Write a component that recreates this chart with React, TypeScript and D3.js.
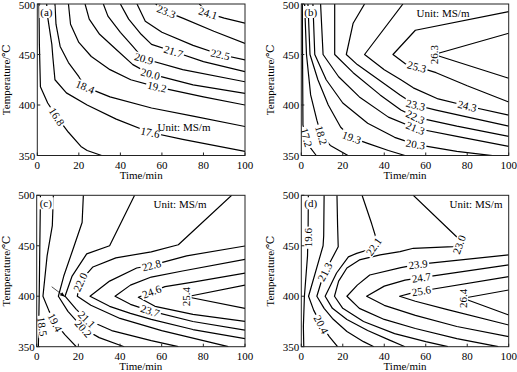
import React from 'react';
import * as d3 from 'd3';

type Pt = [number, number];
interface Contour { level: string; pts: Pt[]; at: Pt; rot?: number; snap?: boolean }

const timeTicks = [0, 20, 40, 60, 80, 100];
const tempTicks = [350, 400, 450, 500];
const xTitle = 'Time/min';
const yTitle = 'Temperature/\u2103';
const unitText = 'Unit: MS/m';

// ---------- panel (a) ----------
const a16_8: Pt[] = [[0.8, 500], [1, 460], [1.5, 418], [5, 402], [9.3, 388.5], [15, 373], [21, 359], [24, 355], [31, 350]];
const a17_6: Pt[] = [[4.5, 500], [5, 487], [7, 460], [7.5, 447], [8.5, 425], [14, 412], [24, 400], [38, 386], [54, 373], [70, 366], [100, 354]];
const a18_4: Pt[] = [[8.5, 500], [9, 480], [11, 458], [15, 442], [20, 428], [23, 418], [35, 408], [55, 397], [75, 389], [100, 378.7]];
const a19_2: Pt[] = [[15, 500], [16, 480], [20, 462], [26, 448], [35, 435], [45, 425], [57.5, 418], [80, 408], [100, 400]];
const a20_0: Pt[] = [[23, 500], [25, 485], [30, 470], [38, 455], [46, 440], [54, 431], [75, 420], [100, 411.6]];
const a20_9: Pt[] = [[31.8, 500], [34, 488], [40, 472], [46, 458], [51, 446], [70, 435], [100, 423]];
const a21_7: Pt[] = [[40, 500], [44, 485], [50, 470], [55, 460], [67, 452], [80, 443], [100, 433]];
const a22_5: Pt[] = [[48, 500], [52, 483], [60, 472], [75, 459], [88, 450], [100, 444.6]];
const a23_3: Pt[] = [[57, 500], [61.5, 493], [70, 486], [85, 473], [100, 461]];
const a24_1: Pt[] = [[78, 500], [82, 491], [90, 486], [100, 481]];
const contoursA: Contour[] = [
  { level: '16.8', pts: a16_8, at: [9.3, 388.5] },
  { level: '17.6', pts: a17_6, at: [54.3, 372.4] },
  { level: '18.4', pts: a18_4, at: [23, 417.9] },
  { level: '19.2', pts: a19_2, at: [57.6, 417.9] },
  { level: '20.0', pts: a20_0, at: [54.3, 429.8] },
  { level: '20.9', pts: a20_9, at: [50.9, 442.6] },
  { level: '21.7', pts: a21_7, at: [65.3, 451.5] },
  { level: '22.5', pts: a22_5, at: [88, 449.5] },
  { level: '23.3', pts: a23_3, at: [62, 492] },
  { level: '24.1', pts: a24_1, at: [82.2, 491.1] },
];

// ---------- panel (b) ----------
const b17_2: Pt[] = [[0.5, 500], [0.6, 450], [0.8, 380], [3.5, 360], [7.2, 350]];
const b18_2: Pt[] = [[1.6, 500], [2.5, 450], [4.5, 410], [7.5, 385], [9.6, 370], [14, 360], [22.5, 350]];
const b19_3: Pt[] = [[3.2, 500], [4.2, 450], [8, 425], [13, 400], [19, 378], [24, 368], [32, 362], [42, 355], [50, 350]];
const b20_3: Pt[] = [[5.6, 500], [6.5, 450], [12, 425], [20, 402], [32, 382], [45, 368], [55, 361], [75, 354], [100, 348]];
const b21_3: Pt[] = [[9.3, 500], [10.5, 450], [18, 428], [28, 408], [42, 388], [55, 377], [75, 369], [100, 359]];
const b22_3: Pt[] = [[16.1, 500], [16.1, 450], [25, 432], [38, 410], [48, 395], [55, 388], [75, 379], [100, 369]];
const b23_3: Pt[] = [[30.5, 500], [25, 481], [21.7, 450], [27, 440], [38, 424], [47.6, 410], [55, 400], [65, 395], [100, 379]];
const b24_3: Pt[] = [[49, 500], [30.5, 450], [40, 435], [48, 425], [54, 417], [66, 406], [80, 399], [100, 390]];
const b25_3: Pt[] = [[100, 492.4], [55, 474], [44.2, 450], [50, 441], [56, 437.7], [65, 432], [80, 419], [100, 403]];
const b26_3: Pt[] = [[100, 471], [64, 450], [100, 426.5]];
const contoursB: Contour[] = [
  { level: '17.2', pts: b17_2, at: [2.9, 368] },
  { level: '18.2', pts: b18_2, at: [9.6, 370] },
  { level: '19.3', pts: b19_3, at: [24.1, 366.6] },
  { level: '20.3', pts: b20_3, at: [55, 360.5] },
  { level: '21.3', pts: b21_3, at: [55, 377] },
  { level: '22.3', pts: b22_3, at: [55, 388] },
  { level: '23.3', pts: b23_3, at: [55, 399] },
  { level: '24.3', pts: b24_3, at: [80, 399] },
  { level: '25.3', pts: b25_3, at: [55.7, 437.7] },
  { level: '26.3', pts: b26_3, at: [64, 450], rot: -90 },
];

// ---------- panel (c) ----------
const c18_5: Pt[] = [[1.8, 500], [1.5, 450], [1.2, 400], [0.8, 350]];
const c19_4: Pt[] = [[8, 500], [7.5, 470], [5, 440], [3, 400], [6, 385], [8.8, 374], [13.5, 362], [19, 350]];
const c20_2: Pt[] = [[22.4, 500], [21.8, 473], [18, 450], [13, 420], [10.4, 400], [15, 385], [22.4, 368], [30, 359], [42, 350]];
const c21_1: Pt[] = [[47, 500], [35, 450], [24, 442], [17, 420], [13.6, 400], [19, 387], [24, 377], [36, 366], [55, 356], [68, 350]];
const c22_0: Pt[] = [[93.6, 500], [68, 451], [55, 444], [38, 438], [27, 429], [21, 415], [19.5, 400], [26, 391], [40, 378], [60, 366], [80, 356], [92, 350]];
const c22_8: Pt[] = [[100, 449.8], [72, 440], [55, 430.5], [48, 428], [35, 415], [25.6, 400], [35, 390], [45, 383], [55, 377], [75, 367], [100, 358]];
const c23_7: Pt[] = [[100, 436.6], [70, 425], [55, 419], [45, 411], [37.6, 400], [45, 392], [54.4, 385.5], [75, 375], [100, 366.5]];
const c24_6: Pt[] = [[100, 423], [75, 414], [61.6, 409.5], [55.2, 404.5], [48.8, 399], [56.8, 390], [75, 382], [100, 375]];
const c25_4: Pt[] = [[100, 411], [72, 399.5], [100, 388]];
const arrowC: Pt[] = [[7.2, 409.4], [13.6, 399.5]];
const contoursC: Contour[] = [
  { level: '18.5', pts: c18_5, at: [2.6, 370], snap: false, rot: 82 },
  { level: '19.4', pts: c19_4, at: [8.8, 374] },
  { level: '20.2', pts: c20_2, at: [22.4, 368] },
  { level: '21.1', pts: c21_1, at: [24, 377] },
  { level: '22.0', pts: c22_0, at: [21, 414], rot: -65 },
  { level: '22.8', pts: c22_8, at: [55.2, 430] },
  { level: '23.7', pts: c23_7, at: [54.4, 385.5] },
  { level: '24.6', pts: c24_6, at: [55.2, 404.5] },
  { level: '25.4', pts: c25_4, at: [72, 399.5], rot: -90 },
];

// ---------- panel (d) ----------
const d19_6: Pt[] = [[3.4, 500], [3.3, 470], [3, 440], [1.5, 400], [1, 370], [1.2, 350]];
const d20_4: Pt[] = [[11, 500], [10.8, 460], [10.5, 450], [3.5, 400], [6, 386], [9.6, 372], [13.5, 360], [17.5, 350]];
const d21_3: Pt[] = [[17.2, 500], [17.5, 470], [17.8, 449], [10.6, 421], [7.5, 400], [11, 388], [15, 378], [22, 365], [30, 355], [35, 350]];
const d22_1: Pt[] = [[29.3, 500], [33.9, 472], [36.3, 456], [34.7, 447.5], [26.7, 442.5], [22.7, 439], [17, 423], [11.5, 400], [15, 388], [22, 377], [32, 366], [42, 357], [50, 350]];
const d23_0: Pt[] = [[54, 500], [75, 458.7], [77.5, 452], [73.3, 449.2], [54, 447.5], [47.6, 444.2], [38, 441], [28, 436], [22, 428], [18, 415], [16, 400], [20, 388], [30, 375], [45, 363], [60, 355], [70.7, 350]];
const d23_9: Pt[] = [[100, 441], [56.3, 431.6], [48, 428.3], [33, 421], [27, 411], [22, 400], [28, 388], [40, 377], [55, 368], [75, 358], [95, 350]];
const d24_7: Pt[] = [[100, 431], [57.9, 418.4], [50, 416], [40, 410], [31.5, 400], [40, 391], [55, 381], [75, 370], [100, 360]];
const d25_6: Pt[] = [[100, 419.4], [57.9, 405.2], [54, 403.5], [47.4, 400], [55, 395], [70, 387], [100, 371.5]];
const d26_4: Pt[] = [[100, 406.2], [78, 398], [100, 381.4]];
const contoursD: Contour[] = [
  { level: '19.6', pts: d19_6, at: [3.3, 458], rot: -90 },
  { level: '20.4', pts: d20_4, at: [9.6, 372] },
  { level: '21.3', pts: d21_3, at: [11.5, 424] },
  { level: '22.1', pts: d22_1, at: [35, 449], rot: -55 },
  { level: '23.0', pts: d23_0, at: [76, 452], rot: -70 },
  { level: '23.9', pts: d23_9, at: [56.3, 431.6] },
  { level: '24.7', pts: d24_7, at: [57.9, 418.4] },
  { level: '25.6', pts: d25_6, at: [57.9, 405.2] },
  { level: '26.4', pts: d26_4, at: [78, 398], rot: -90 },
];

const FONT = "'Liberation Serif', 'Times New Roman', 'DejaVu Serif', serif";

interface PanelCfg {
  id: string; x0: number; x1: number; y0: number; y1: number;
  contours: Contour[]; tag: string; unit: [number, number]; titleX: number; arrow?: Pt[];
}

const panels: PanelCfg[] = [
  { id: 'a', x0: 37.3, x1: 245, y0: 4, y1: 155.5, contours: contoursA, tag: '(a)', unit: [184, 131], titleX: 9.5 },
  { id: 'b', x0: 301.3, x1: 508.7, y0: 4, y1: 155.5, contours: contoursB, tag: '(b)', unit: [443, 17], titleX: 273.5 },
  { id: 'c', x0: 36.7, x1: 245, y0: 195.3, y1: 346.7, contours: contoursC, tag: '(c)', unit: [180, 208], titleX: 9.5, arrow: arrowC },
  { id: 'd', x0: 301.3, x1: 508.7, y0: 195.3, y1: 346.7, contours: contoursD, tag: '(d)', unit: [476, 208], titleX: 273.5 },
];

function place(pp: Pt[], target: Pt, snap: boolean) {
  let best = { d: Infinity, x: target[0], y: target[1], a: 0 };
  for (let i = 0; i < pp.length - 1; i++) {
    const [x1, y1] = pp[i];
    const [x2, y2] = pp[i + 1];
    const dx = x2 - x1, dy = y2 - y1;
    const L = dx * dx + dy * dy;
    let t = L ? ((target[0] - x1) * dx + (target[1] - y1) * dy) / L : 0;
    t = Math.max(0, Math.min(1, t));
    const px = x1 + t * dx, py = y1 + t * dy;
    const d = (px - target[0]) ** 2 + (py - target[1]) ** 2;
    if (d < best.d) best = { d, x: px, y: py, a: (Math.atan2(dy, dx) * 180) / Math.PI };
  }
  let a = best.a;
  if (a > 90) a -= 180;
  if (a < -90) a += 180;
  return snap ? { x: best.x, y: best.y, a } : { x: target[0], y: target[1], a };
}

function Panel({ p }: { p: PanelCfg }) {
  const xs = d3.scaleLinear().domain([0, 100]).range([p.x0, p.x1]);
  const ys = d3.scaleLinear().domain([350, 500]).range([p.y1, p.y0]);
  const line = d3.line<Pt>().x((d) => xs(d[0])).y((d) => ys(d[1]));
  const clipId = `clip-${p.id}`;
  const cy = (p.y0 + p.y1) / 2;
  const cx = (p.x0 + p.x1) / 2;
  return (
    <g>
      <defs>
        <clipPath id={clipId}>
          <rect x={p.x0} y={p.y0} width={p.x1 - p.x0} height={p.y1 - p.y0} />
        </clipPath>
      </defs>
      <g clipPath={`url(#${clipId})`}>
        {p.contours.map((c) => (
          <path key={c.level} d={line(c.pts) || ''} fill="none" stroke="#000" strokeWidth={1.2} strokeLinejoin="round" />
        ))}
        {p.arrow && (
          <g>
            <path d={line(p.arrow) || ''} stroke="#000" strokeWidth={0.7} fill="none" />
            {(() => {
              const [a, b] = p.arrow!;
              const ax = xs(a[0]), ay = ys(a[1]), bx = xs(b[0]), by = ys(b[1]);
              const ang = Math.atan2(by - ay, bx - ax);
              const L = 5, w = 2;
              const ux = Math.cos(ang), uy = Math.sin(ang);
              const p1 = [bx - ux * L - uy * w, by - uy * L + ux * w];
              const p2 = [bx - ux * L + uy * w, by - uy * L - ux * w];
              return <path d={`M${bx},${by}L${p1[0]},${p1[1]}L${p2[0]},${p2[1]}Z`} fill="#000" />;
            })()}
          </g>
        )}
        {p.contours.map((c) => {
          const pp: Pt[] = c.pts.map((d) => [xs(d[0]), ys(d[1])]);
          const pos = place(pp, [xs(c.at[0]), ys(c.at[1])], c.snap !== false);
          const rot = c.rot !== undefined ? c.rot : pos.a;
          const w = c.level.length * 5.3 + 1;
          return (
            <g key={'l' + c.level} transform={`translate(${pos.x},${pos.y}) rotate(${rot})`}>
              <rect x={-w / 2} y={-5} width={w} height={10} fill="#fff" />
              <text x={0} y={3.8} textAnchor="middle" fontSize={11} fontFamily={FONT} fill="#000">
                {c.level}
              </text>
            </g>
          );
        })}
      </g>
      {/* panel tag */}
      <rect x={p.x0 + 2} y={p.y0 + 2} width={15} height={12} fill="#fff" />
      <text x={p.x0 + 3} y={p.y0 + 12} fontSize={11} fontFamily={FONT}>{p.tag}</text>
      <text x={p.unit[0]} y={p.unit[1]} textAnchor="middle" fontSize={11} fontFamily={FONT}>{unitText}</text>
      {/* frame */}
      <rect x={p.x0} y={p.y0} width={p.x1 - p.x0} height={p.y1 - p.y0} fill="none" stroke="#222" strokeWidth={1} />
      {/* ticks */}
      {timeTicks.map((t) => (
        <g key={'xt' + t}>
          <line x1={xs(t)} x2={xs(t)} y1={p.y1} y2={p.y1 - 3} stroke="#222" strokeWidth={1} />
          <text x={xs(t)} y={p.y1 + 13} textAnchor="middle" fontSize={11} fontFamily={FONT}>{t}</text>
        </g>
      ))}
      {tempTicks.map((t) => (
        <g key={'yt' + t}>
          <line x1={p.x0} x2={p.x0 + 3} y1={ys(t)} y2={ys(t)} stroke="#222" strokeWidth={1} />
          <text x={p.x0 - 2} y={Math.max(ys(t) + 4, 9)} textAnchor="end" fontSize={11} fontFamily={FONT}>{t}</text>
        </g>
      ))}
      <text x={cx} y={p.y1 + 23.5} textAnchor="middle" fontSize={11} fontFamily={FONT}>{xTitle}</text>
      <text transform={`translate(${p.titleX},${cy}) rotate(-90)`} textAnchor="middle" fontSize={11} fontFamily={FONT}>{yTitle}</text>
    </g>
  );
}

export default function App() {
  return (
    <svg width={517} height={372} viewBox="0 0 517 372" style={{ position: 'absolute', left: 0, top: 0, background: '#fff' }}>
      <rect x={0} y={0} width={517} height={372} fill="#fff" />
      {panels.map((p) => (
        <Panel key={p.id} p={p} />
      ))}
    </svg>
  );
}
